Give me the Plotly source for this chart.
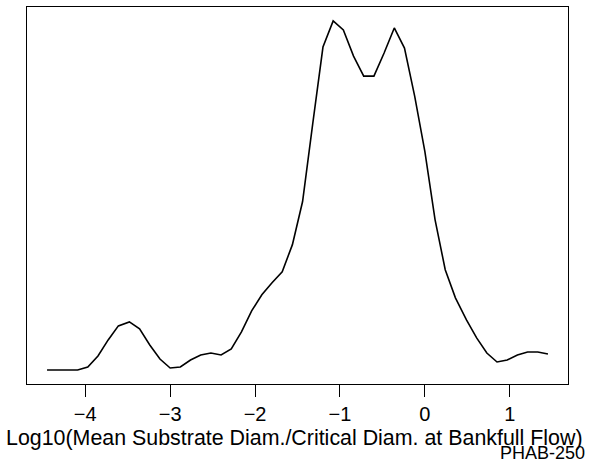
import plotly.graph_objects as go

# Density curve of Log10(Mean Substrate Diam./Critical Diam. at Bankfull Flow)
x_vals = [-4.45, -4.33, -4.21, -4.09, -3.97, -3.85, -3.73, -3.61, -3.48, -3.36,
          -3.24, -3.12, -3.00, -2.88, -2.76, -2.64, -2.52, -2.40, -2.28, -2.16,
          -2.04, -1.92, -1.80, -1.68, -1.56, -1.44, -1.32, -1.20, -1.08, -0.96,
          -0.84, -0.72, -0.60, -0.48, -0.36, -0.24, -0.12, 0.00, 0.12, 0.24,
          0.36, 0.49, 0.61, 0.73, 0.85, 0.97, 1.09, 1.21, 1.33, 1.45]
density = [0.000, 0.000, 0.000, 0.000, 0.006, 0.028, 0.060, 0.088, 0.096, 0.082,
           0.050, 0.022, 0.004, 0.006, 0.020, 0.030, 0.034, 0.030, 0.042, 0.076,
           0.118, 0.150, 0.174, 0.196, 0.250, 0.336, 0.492, 0.644, 0.696, 0.678,
           0.626, 0.586, 0.586, 0.632, 0.682, 0.642, 0.546, 0.436, 0.300, 0.200,
           0.144, 0.100, 0.064, 0.034, 0.016, 0.020, 0.030, 0.036, 0.036, 0.032]
tick_vals = [-4, -3, -2, -1, 0, 1]
x_title = "Log10(Mean Substrate Diam./Critical Diam. at Bankfull Flow)"
corner_label = "PHAB-250"

FONT = "Liberation Sans, Arial, sans-serif"

xmin, xmax = min(x_vals), max(x_vals)
ymin, ymax = min(density), max(density)
xpad = 0.04 * (xmax - xmin)
ypad = 0.04 * (ymax - ymin)

fig = go.Figure()
fig.add_trace(go.Scatter(
    x=x_vals, y=density, mode="lines",
    line=dict(color="black", width=1.6),
    hoverinfo="skip", showlegend=False,
))

fig.update_layout(
    width=603, height=462,
    margin=dict(l=27, r=35, t=7, b=78),
    paper_bgcolor="white", plot_bgcolor="white",
    font=dict(family=FONT, size=20, color="black"),
    xaxis=dict(
        range=[xmin - xpad, xmax + xpad],
        tickmode="array", tickvals=tick_vals,
        ticks="outside", ticklen=12, tickwidth=1.3, tickcolor="black",
        showline=True, linecolor="black", linewidth=1.3, mirror=True,
        showgrid=False, zeroline=False,
        tickfont=dict(family=FONT, size=20, color="black"),
    ),
    yaxis=dict(
        range=[ymin - ypad, ymax + ypad],
        showticklabels=False, ticks="",
        showline=True, linecolor="black", linewidth=1.3, mirror=True,
        showgrid=False, zeroline=False,
    ),
    annotations=[
        dict(text=x_title, xref="paper", yref="paper", x=0.495, y=-0.143,
             xanchor="center", yanchor="middle", showarrow=False,
             font=dict(family=FONT, size=21.4, color="black")),
        dict(text=corner_label, xref="paper", yref="paper", x=1.036, y=-0.184,
             xanchor="right", yanchor="middle", showarrow=False,
             font=dict(family=FONT, size=18, color="black")),
    ],
)

fig.write_html("out.html", config={"displayModeBar": False},
               post_script="document.body.style.margin='0';")
